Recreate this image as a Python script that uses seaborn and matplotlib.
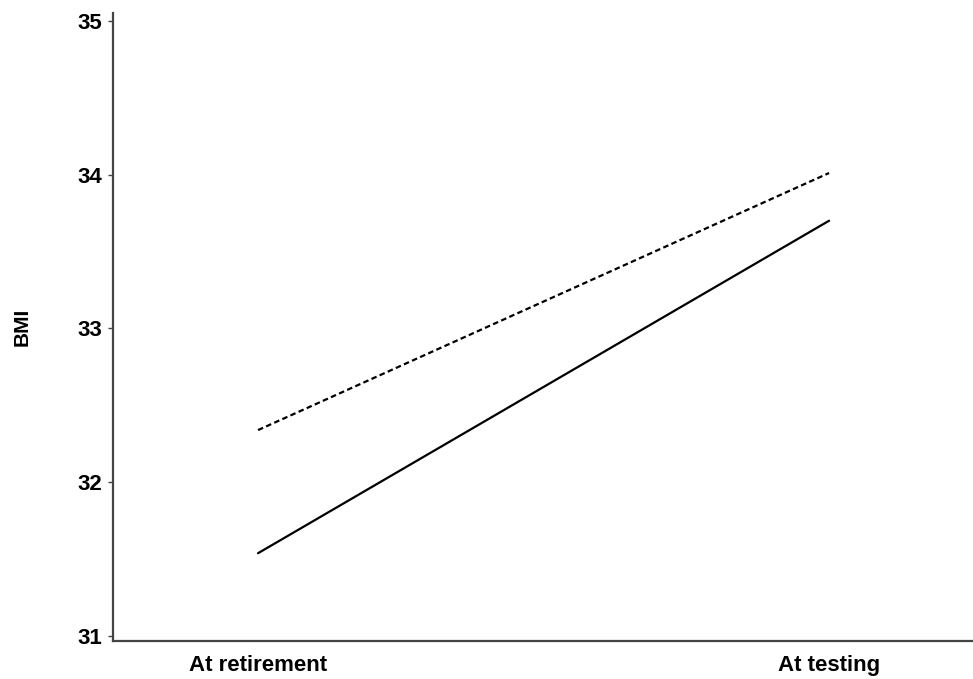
import pandas as pd
import matplotlib
matplotlib.use("Agg")
import matplotlib.pyplot as plt
import seaborn as sns

# Valeurs
temps = ["At retirement", "At testing"]
groupe_continu = [31.54, 33.70]
groupe_pointille = [32.34, 34.01]

df = pd.DataFrame({
    "temps": temps * 2,
    "bmi": groupe_continu + groupe_pointille,
    "groupe": ["solid"] * 2 + ["dashed"] * 2,
})

sns.set_style("ticks")
plt.rcParams["font.family"] = ["Liberation Sans", "DejaVu Sans"]
plt.rcParams["text.color"] = "black"
plt.rcParams["xtick.labelcolor"] = "black"
plt.rcParams["ytick.labelcolor"] = "black"
plt.rcParams["axes.labelcolor"] = "black"

fig = plt.figure(figsize=(9.73, 6.79), dpi=100)
ax = fig.add_axes([0.1161, 0.056, 0.8839, 0.925])

sns.lineplot(data=df, x="temps", y="bmi", style="groupe",
             style_order=["solid", "dashed"],
             dashes={"solid": "", "dashed": (2.5, 1.5)},
             color="black", linewidth=1.6, legend=False, ax=ax)

ax.set_xlim(-0.254, 1.252)
ax.set_ylim(30.97, 35.05)
ax.set_yticks([31, 32, 33, 34, 35])
ax.set_xlabel("")
ax.set_ylabel("BMI", fontsize=15, fontweight="bold", labelpad=33)

sns.despine(ax=ax)
for s in ["left", "bottom"]:
    ax.spines[s].set_color("#444444")
    ax.spines[s].set_linewidth(1.6)

ax.tick_params(axis="y", length=3.5, width=1.0, color="#444444", pad=4, labelsize=16)
ax.tick_params(axis="x", length=0, pad=10, labelsize=16)
for lab in ax.get_xticklabels() + ax.get_yticklabels():
    lab.set_fontweight("bold")

fig.savefig("out.png", dpi=100)
